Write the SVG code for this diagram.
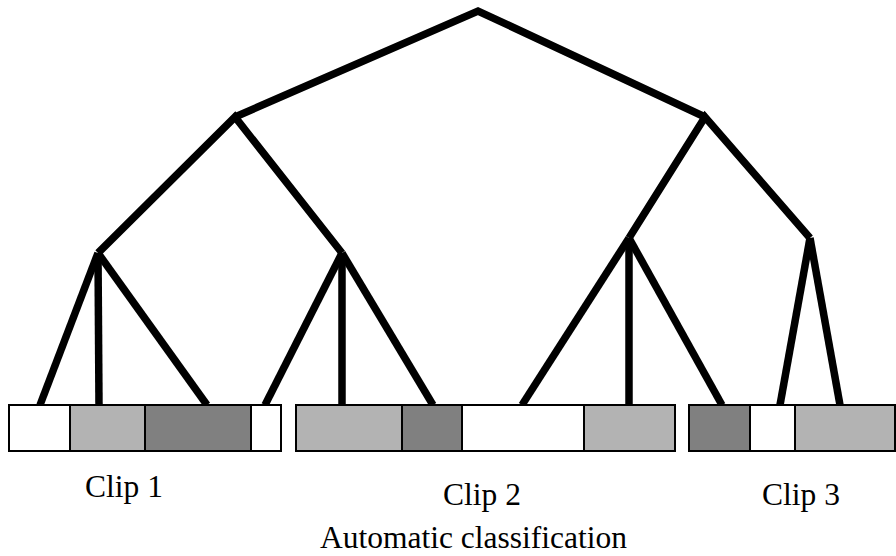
<svg xmlns="http://www.w3.org/2000/svg" width="896" height="556" viewBox="0 0 896 556">
<style>
.e{stroke:#000;stroke-width:7.5;stroke-linecap:butt;stroke-linejoin:miter;fill:none}
.seg{stroke:#000;stroke-width:2}
.w{fill:#fff}.l{fill:#b3b3b3}.d{fill:#808080}
text{font-family:"Liberation Serif","Times New Roman",serif;font-size:31.5px;fill:#000}
</style>
<rect width="896" height="556" fill="#fff"/>
<g id="connectors">
<polyline class="e" points="235,117 478,11 705,117"/>
<polyline class="e" points="98,253 235,117 342,253"/>
<polyline class="e" points="629,238 705,117 810,238"/>
<line class="e" x1="98" y1="253" x2="40" y2="405"/>
<line class="e" x1="98" y1="253" x2="99" y2="405"/>
<line class="e" x1="98" y1="253" x2="207" y2="405"/>
<line class="e" x1="342" y1="253" x2="265" y2="405"/>
<line class="e" x1="342" y1="253" x2="342" y2="405"/>
<line class="e" x1="342" y1="253" x2="433" y2="405"/>
<line class="e" x1="629" y1="238" x2="522" y2="405"/>
<line class="e" x1="629" y1="238" x2="629" y2="405"/>
<line class="e" x1="629" y1="238" x2="722" y2="405"/>
<line class="e" x1="810" y1="238" x2="780" y2="405"/>
<line class="e" x1="810" y1="238" x2="840" y2="405"/>
</g>
<g id="clip1">
<rect class="seg w" x="9" y="405" width="61" height="46"/>
<rect class="seg l" x="70" y="405" width="75" height="46"/>
<rect class="seg d" x="145" y="405" width="106" height="46"/>
<rect class="seg w" x="251" y="405" width="30" height="46"/>
<text x="85" y="497">Clip 1</text>
</g>
<g id="clip2">
<rect class="seg l" x="296" y="405" width="106" height="46"/>
<rect class="seg d" x="402" y="405" width="60" height="46"/>
<rect class="seg w" x="462" y="405" width="122" height="46"/>
<rect class="seg l" x="584" y="405" width="91" height="46"/>
<text x="443" y="505">Clip 2</text>
</g>
<g id="clip3">
<rect class="seg d" x="689" y="405" width="61" height="46"/>
<rect class="seg w" x="750" y="405" width="45" height="46"/>
<rect class="seg l" x="795" y="405" width="100" height="46"/>
<text x="762" y="505">Clip 3</text>
</g>
<g id="caption">
<text x="320" y="548">Automatic classification</text>
</g>
</svg>
